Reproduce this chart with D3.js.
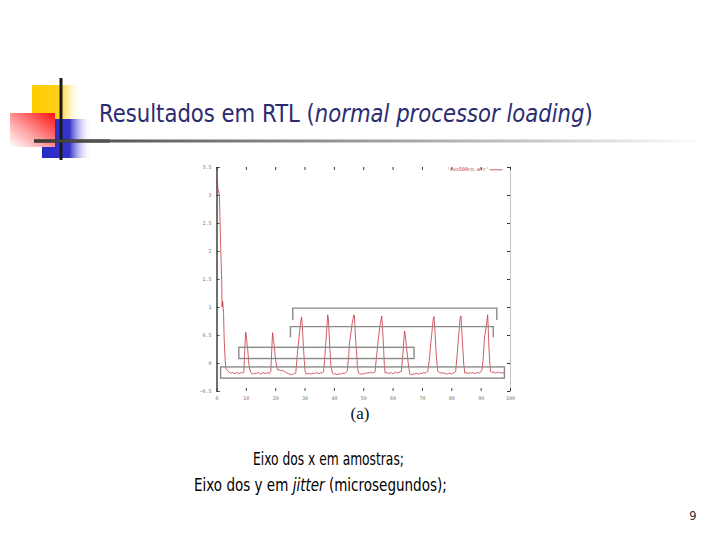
<!DOCTYPE html>
<html>
<head>
<meta charset="utf-8">
<script src="https://cdn.jsdelivr.net/npm/d3@7"></script>
<style>
  html, body { margin: 0; padding: 0; background: #fff; }
  svg { display: block; }
</style>
</head>
<body>
<div id="slide"></div>
<script>
// --- data (x = sample, y = jitter in microseconds) ---
const jitterSeries = [
  [0, 3.3], [0.3, 3.25], [0.5, 3.1], [0.8, 3.05], [1.0, 2.98], [1.1, 2.75], [1.4, 2.1], [1.6, 1.8],
  [1.8, 1.4], [1.9, 1.0], [2.1, 1.1], [2.4, 0.9], [2.6, 0.45], [2.9, 0.1], [3.2, -0.1], [3.5, -0.12],
  [4, -0.15], [4.5, -0.17], [5, -0.18], [5.5, -0.17], [6, -0.19], [6.5, -0.18], [7, -0.17], [7.5, -0.19],
  [8, -0.18], [8.5, -0.17], [9, -0.18], [9.3, -0.16],
  [9.6, 0.2], [9.9, 0.55], [10.1, 0.52], [10.3, 0.4], [10.5, 0.3], [10.7, 0.2], [10.9, 0.05], [11.2, -0.08],
  [11.6, -0.16], [12, -0.19],
  [12.5, -0.2], [13, -0.18], [13.5, -0.19], [14, -0.17], [14.5, -0.18], [15, -0.2], [15.5, -0.18], [16, -0.17],
  [16.5, -0.19], [17, -0.18], [17.5, -0.17], [18, -0.19], [18.5, -0.15],
  [18.8, 0.2], [19.1, 0.54], [19.4, 0.42], [19.7, 0.3], [20, 0.12], [20.3, 0.0], [20.6, -0.08], [21, -0.13],
  [21.5, -0.12], [22, -0.14], [22.5, -0.13], [23, -0.15], [23.5, -0.16], [24, -0.18], [24.5, -0.19], [25, -0.2],
  [25.5, -0.21], [26, -0.2], [26.5, -0.19], [27, -0.18],
  [27.3, 0.0], [27.6, 0.2], [28, 0.4], [28.4, 0.6], [28.8, 0.77], [29, 0.82], [29.2, 0.7], [29.4, 0.5],
  [29.6, 0.3], [29.9, 0.05], [30.2, -0.15],
  [30.5, -0.2], [31, -0.19], [31.5, -0.18], [32, -0.2], [32.5, -0.19], [33, -0.18], [33.5, -0.19], [34, -0.17],
  [34.5, -0.18], [35, -0.19], [35.5, -0.17], [36, -0.18], [36.5, -0.15],
  [36.9, 0.1], [37.3, 0.4], [37.6, 0.65], [37.9, 0.86], [38.1, 0.8], [38.4, 0.5], [38.7, 0.2], [39, -0.05],
  [39.5, -0.18],
  [40, -0.2], [40.5, -0.19], [41, -0.21], [41.5, -0.2], [42, -0.19], [42.5, -0.2], [43, -0.18], [43.5, -0.19],
  [44, -0.17], [44.5, -0.15],
  [45, 0.1], [45.3, 0.35], [45.7, 0.5], [46.2, 0.7], [46.8, 0.86], [47, 0.84], [47.3, 0.5], [47.7, 0.2],
  [48, -0.05], [48.4, -0.18],
  [49, -0.2], [49.5, -0.19], [50, -0.2], [50.5, -0.18], [51, -0.19], [51.5, -0.17], [52, -0.18], [52.5, -0.16],
  [53, -0.18], [53.5, -0.17], [54, -0.16],
  [54.5, 0.1], [55, 0.35], [55.4, 0.55], [55.8, 0.7], [56.3, 0.84], [56.6, 0.6], [56.9, 0.3], [57.2, -0.05],
  [57.5, -0.18],
  [58, -0.17], [58.5, -0.19], [59, -0.18], [59.5, -0.17], [60, -0.19], [60.5, -0.18], [61, -0.16], [61.5, -0.18],
  [62, -0.17], [62.5, -0.16], [63, -0.15],
  [63.5, 0.15], [63.8, 0.4], [64.1, 0.57], [64.4, 0.45], [64.7, 0.3], [65.1, 0.1], [65.5, -0.08], [65.9, -0.2],
  [66.5, -0.21], [67, -0.19], [67.5, -0.2], [68, -0.18], [68.5, -0.19], [69, -0.2], [69.5, -0.18], [70, -0.19],
  [70.5, -0.17], [71, -0.18], [71.5, -0.17], [72, -0.15],
  [72.6, 0.1], [73, 0.35], [73.4, 0.55], [73.8, 0.77], [74.1, 0.83], [74.4, 0.6], [74.7, 0.3], [75, 0.05],
  [75.4, -0.15],
  [76, -0.17], [76.5, -0.18], [77, -0.17], [77.5, -0.19], [78, -0.18], [78.5, -0.2], [79, -0.19], [79.5, -0.18],
  [80, -0.2], [80.5, -0.18], [81, -0.17], [81.5, -0.15],
  [81.9, 0.1], [82.3, 0.35], [82.7, 0.6], [83, 0.8], [83.3, 0.84], [83.6, 0.55], [83.9, 0.3], [84.2, 0.0],
  [84.6, -0.18],
  [85, -0.17], [85.5, -0.18], [86, -0.19], [86.5, -0.17], [87, -0.18], [87.5, -0.17], [88, -0.19], [88.5, -0.18],
  [89, -0.17], [89.5, -0.18], [90, -0.16], [90.5, -0.12],
  [90.9, 0.1], [91.3, 0.45], [91.6, 0.55], [92, 0.7], [92.4, 0.86], [92.6, 0.6], [92.8, 0.3], [93.1, 0.0],
  [93.4, -0.15],
  [94, -0.17], [94.5, -0.16], [95, -0.18], [95.5, -0.17], [96, -0.16], [96.5, -0.18], [97, -0.17], [97.5, -0.18],
  [98, -0.17]
]

const xTicks = [0, 10, 20, 30, 40, 50, 60, 70, 80, 90, 100]
const yTicks = [-0.5, 0, 0.5, 1, 1.5, 2, 2.5, 3, 3.5]
const legendLabel = "'cos500cn.arc'"

// annotation brackets over the peaks: [xStart, xEnd, yTop, yLegEnd]
const bracketSpans = [
  [26.0, 95.5, 0.98, 0.77],
  [25.2, 94.3, 0.65, 0.46]
]
// annotation boxes: [xStart, xEnd, yTop, yBottom]
const boxSpans = [
  [7.6, 67.3, 0.28, 0.08],
  [1.4, 98.1, -0.07, -0.27]
]

const titleParts = [
  { text: 'Resultados em RTL (', italic: false },
  { text: 'normal processor loading', italic: true },
  { text: ')', italic: false }
]
const captionLines = [
  [{ text: 'Eixo dos x em amostras;', italic: false }],
  [{ text: 'Eixo dos y em ', italic: false }, { text: 'jitter', italic: true }, { text: ' (microsegundos);', italic: false }]
]
const pageNumber = '9'
const subLabel = '(a)'

// --- slide ---
const W = 720
const H = 540
const svg = d3.select('#slide').append('svg')
  .attr('width', W)
  .attr('height', H)

svg.append('rect').attr('width', W).attr('height', H).attr('fill', '#fff')

const defs = svg.append('defs')

function hGradient(id, stops, x1 = '0%', y1 = '0%', x2 = '100%', y2 = '0%') {
  const g = defs.append('linearGradient').attr('id', id)
    .attr('x1', x1).attr('y1', y1).attr('x2', x2).attr('y2', y2)
  stops.forEach(([off, col, op]) => {
    g.append('stop').attr('offset', off).attr('stop-color', col).attr('stop-opacity', op)
  })
}

hGradient('yellowFade', [['0%', '#ffcc00', 1], ['55%', '#ffd21a', 1], ['100%', '#ffffff', 0]])
hGradient('blueFade', [['0%', '#2a2ac4', 1], ['55%', '#3434cc', 1], ['100%', '#ffffff', 0]])
hGradient('redFade', [['0%', '#ffffff', 1], ['45%', '#ff9a9a', 1], ['100%', '#ff1010', 1]], '0%', '100%', '100%', '0%')
hGradient('ruleFade', [['0%', '#3a3a3a', 1], ['20%', '#6a6a6a', 1], ['75%', '#c8c8c8', 1], ['100%', '#ffffff', 1]])

// logo blocks
const logo = svg.append('g')
logo.append('rect').attr('x', 32).attr('y', 85).attr('width', 50).attr('height', 34).attr('fill', 'url(#yellowFade)')
logo.append('rect').attr('x', 42).attr('y', 119).attr('width', 50).attr('height', 39).attr('fill', 'url(#blueFade)')
logo.append('rect').attr('x', 10).attr('y', 113).attr('width', 45).attr('height', 34).attr('fill', 'url(#redFade)')

// title rule
svg.append('rect').attr('x', 34).attr('y', 139.5).attr('width', 670).attr('height', 3).attr('fill', 'url(#ruleFade)')
logo.append('line').attr('x1', 34).attr('x2', 110).attr('y1', 141).attr('y2', 141)
  .attr('stroke', '#1a1a1a').attr('stroke-width', 3)
logo.append('line').attr('x1', 61).attr('x2', 61).attr('y1', 78).attr('y2', 160)
  .attr('stroke', '#1a1a1a').attr('stroke-width', 3)

// squeeze a text element horizontally so it spans the width seen in the slide
function fitWidth(sel, x0, width) {
  const w = sel.node().getBBox().width
  sel.attr('transform', `translate(${x0},0) scale(${width / w},1) translate(${-x0},0)`)
}

function richText(parts, x, y, size, fill) {
  const t = svg.append('text')
    .attr('x', x).attr('y', y)
    .attr('font-family', 'DejaVu Sans, Verdana, sans-serif')
    .attr('font-size', size)
    .attr('fill', fill)
    .attr('xml:space', 'preserve')
  parts.forEach(p => {
    t.append('tspan').text(p.text).attr('font-style', p.italic ? 'italic' : 'normal')
  })
  return t
}

const title = richText(titleParts, 99, 122, 24, '#2b2b70')
fitWidth(title, 99, 494)

const cap1 = richText(captionLines[0], 253, 465, 17.5, '#000')
fitWidth(cap1, 253, 151)
const cap2 = richText(captionLines[1], 194, 491.5, 17.5, '#000')
fitWidth(cap2, 194, 253)

svg.append('text')
  .attr('x', 693).attr('y', 520)
  .attr('text-anchor', 'middle')
  .attr('font-family', 'DejaVu Sans, sans-serif')
  .attr('font-size', 11.5)
  .attr('fill', '#333')
  .text(pageNumber)

// --- gnuplot figure ---
const plotLeft = 216.5
const plotRight = 510
const plotTop = 167
const plotBottom = 391

const x = d3.scaleLinear().domain([0, 100]).range([plotLeft, plotRight])
const y = d3.scaleLinear().domain([-0.5, 3.5]).range([plotBottom, plotTop])

const plot = svg.append('g')
  .attr('font-family', 'DejaVu Sans Mono, monospace')

// left axis (solid line, inward ticks)
const leftAxis = plot.append('g')
  .attr('transform', `translate(${plotLeft},0)`)
  .call(d3.axisLeft(y).tickValues(yTicks).tickSize(-3).tickPadding(5).tickFormat(d3.format('')))
leftAxis.select('.domain').attr('stroke', '#111').attr('stroke-width', 1.2)
leftAxis.selectAll('.tick line').attr('stroke', '#444')
leftAxis.selectAll('.tick text').attr('font-size', 5).attr('fill', '#777').attr('font-family', 'DejaVu Sans Mono, monospace')

// right border (faint) with inward ticks
const rightAxis = plot.append('g')
  .attr('transform', `translate(${plotRight},0)`)
  .call(d3.axisRight(y).tickValues(yTicks).tickSize(-3).tickFormat(''))
rightAxis.select('.domain').attr('stroke', '#999').attr('stroke-width', 0.6)
rightAxis.selectAll('.tick line').attr('stroke', '#333')

// bottom ticks and labels, no border line
const bottomAxis = plot.append('g')
  .attr('transform', `translate(0,${plotBottom})`)
  .call(d3.axisBottom(x).tickValues(xTicks).tickSize(-3).tickPadding(5))
bottomAxis.select('.domain').remove()
bottomAxis.selectAll('.tick line').attr('stroke', '#444')
bottomAxis.selectAll('.tick text').attr('font-size', 5).attr('fill', '#777').attr('font-family', 'DejaVu Sans Mono, monospace')

// top ticks only
const topAxis = plot.append('g')
  .attr('transform', `translate(0,${plotTop})`)
  .call(d3.axisTop(x).tickValues(xTicks).tickSize(-3).tickFormat(''))
topAxis.select('.domain').remove()
topAxis.selectAll('.tick line').attr('stroke', '#333')

// jitter trace
const line = d3.line().x(d => x(d[0])).y(d => y(d[1]))
plot.append('path')
  .datum(jitterSeries)
  .attr('d', line)
  .attr('fill', 'none')
  .attr('stroke', '#c42a36')
  .attr('stroke-width', 0.9)
  .attr('stroke-opacity', 0.85)
  .attr('stroke-linejoin', 'round')

// legend
plot.append('text')
  .attr('x', x(78.5)).attr('y', y(3.43))
  .attr('font-size', 5)
  .attr('fill', '#c03030')
  .text(legendLabel)
plot.append('line')
  .attr('x1', x(93)).attr('x2', x(97.5))
  .attr('y1', y(3.45)).attr('y2', y(3.45))
  .attr('stroke', '#c8323c').attr('stroke-width', 0.8)

// annotation brackets and boxes
const annot = plot.append('g')
  .attr('fill', 'none')
  .attr('stroke', '#8a8a8a')
  .attr('stroke-width', 1.4)

annot.selectAll('path.bracket')
  .data(bracketSpans)
  .join('path')
  .attr('class', 'bracket')
  .attr('d', d => `M${x(d[0])},${y(d[3])}V${y(d[2])}H${x(d[1])}V${y(d[3])}`)

annot.selectAll('rect.box')
  .data(boxSpans)
  .join('rect')
  .attr('class', 'box')
  .attr('x', d => x(d[0]))
  .attr('y', d => y(d[2]))
  .attr('width', d => x(d[1]) - x(d[0]))
  .attr('height', d => y(d[3]) - y(d[2]))

// sub-figure label
svg.append('text')
  .attr('x', 360).attr('y', 419)
  .attr('text-anchor', 'middle')
  .attr('font-family', 'Liberation Serif, DejaVu Serif, serif')
  .attr('font-size', 17)
  .attr('fill', '#111')
  .text(subLabel)
</script>
</body>
</html>
